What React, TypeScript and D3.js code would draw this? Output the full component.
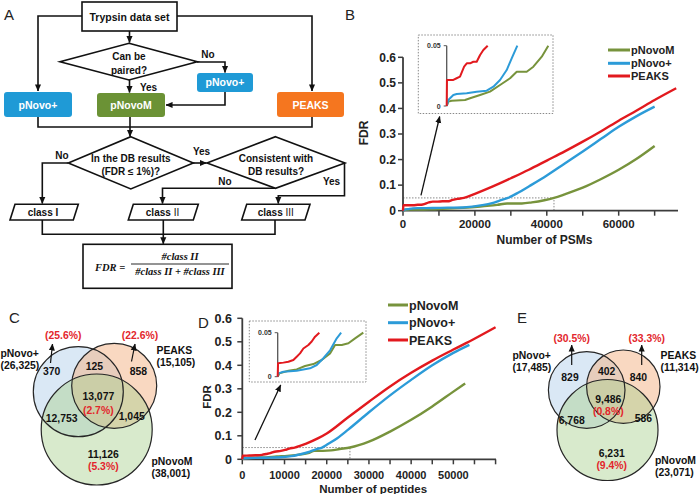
import React from "react";
import * as d3 from "d3";

type Pt = [number, number];

// ---------------- DATA ----------------
const seriesNames = ["pNovoM", "pNovo+", "PEAKS"];
const seriesColors = ["#77933c", "#2c9bd8", "#e2191e"];

// Panel B: FDR vs number of PSMs
const psmPNovoM: Pt[] = [
  [0, 0], [700, 0.0036], [2070, 0.0044], [7580, 0.005], [9650, 0.0064], [13800, 0.0091],
  [17900, 0.0119], [22050, 0.0174], [26200, 0.023], [28950, 0.0284], [33070, 0.0284],
  [35830, 0.0326], [39300, 0.0409], [42000, 0.05], [45000, 0.064], [50000, 0.09],
  [55000, 0.123], [60000, 0.16], [65000, 0.203], [70000, 0.253],
];
const psmPNovoPlus: Pt[] = [
  [0, 0], [690, 0.005], [1380, 0.0064], [2750, 0.0091], [4130, 0.0099], [8270, 0.0105],
  [12400, 0.0119], [16540, 0.0127], [19300, 0.016], [22050, 0.0216], [24800, 0.0298],
  [26870, 0.0395], [29200, 0.05], [32000, 0.07], [35000, 0.095], [40000, 0.138],
  [45000, 0.185], [50000, 0.232], [55000, 0.28], [60000, 0.328], [65000, 0.37], [70000, 0.407],
];
const psmPEAKS: Pt[] = [
  [0, 0], [100, 0.0216], [2750, 0.0216], [4100, 0.023], [5500, 0.0243], [7200, 0.0326],
  [8300, 0.0354], [9650, 0.0354], [11000, 0.0367], [12400, 0.0367], [13800, 0.0423],
  [15150, 0.0464], [16950, 0.05], [20000, 0.066], [25000, 0.095], [30000, 0.127],
  [35000, 0.16], [40000, 0.196], [45000, 0.232], [50000, 0.27], [55000, 0.31],
  [60000, 0.352], [65000, 0.392], [70000, 0.433], [76000, 0.479],
];

// Panel D: FDR vs number of peptides
const pepPNovoM: Pt[] = [
  [0, 0], [490, 0.0038], [3180, 0.0068], [5660, 0.0083], [8150, 0.0121], [10620, 0.0144],
  [13110, 0.019], [15600, 0.0265], [17090, 0.036], [19090, 0.036], [21070, 0.038],
  [23050, 0.0436], [25500, 0.05], [30000, 0.075], [35000, 0.118], [40000, 0.168],
  [45000, 0.225], [50000, 0.288], [52800, 0.323],
];
const pepPNovoPlus: Pt[] = [
  [0, 0], [200, 0.0038], [1690, 0.0057], [5660, 0.0068], [9630, 0.0095], [11630, 0.0133],
  [13610, 0.021], [15600, 0.03], [17590, 0.0436], [18900, 0.05], [20000, 0.062],
  [22500, 0.09], [25000, 0.125], [30000, 0.2], [35000, 0.272], [40000, 0.338],
  [45000, 0.4], [50000, 0.453], [53800, 0.487],
];
const pepPEAKS: Pt[] = [
  [0, 0], [100, 0.0152], [1690, 0.016], [3180, 0.017], [4670, 0.019], [5660, 0.0227],
  [6650, 0.0265], [7650, 0.032], [9140, 0.036], [10130, 0.04], [11130, 0.0455],
  [12400, 0.05], [15000, 0.066], [18000, 0.09], [20000, 0.11], [25000, 0.178],
  [30000, 0.245], [35000, 0.31], [40000, 0.368], [45000, 0.42], [50000, 0.467],
  [55000, 0.513], [60000, 0.562],
];

const fdrTicks = [0, 0.1, 0.2, 0.3, 0.4, 0.5, 0.6];
const insetTicks = [0, 0.05];
const psmTicks = [0, 20000, 40000, 60000];
const pepTicks = [0, 10000, 20000, 30000, 40000, 50000];
const psmZoomLimit = 42000;
const pepZoomLimit = 25500;
const zoomFdr = 0.05;

// Venn diagrams (order of counts: A only, A&B, B only, A&B&C, A&C, B&C, C only)
const vennSetNames = ["pNovo+", "PEAKS", "pNovoM"];
const vennCTotals = ["(26,325)", "(15,105)", "(38,001)"];
const vennCCounts = ["370", "125", "858", "13,077", "12,753", "1,045", "11,126"];
const vennCPercents = ["(25.6%)", "(22.6%)", "(2.7%)", "(5.3%)"];
const vennETotals = ["(17,485)", "(11,314)", "(23,071)"];
const vennECounts = ["829", "402", "840", "9,486", "6,768", "586", "6,231"];
const vennEPercents = ["(30.5%)", "(33.3%)", "(0.8%)", "(9.4%)"];

// ---------------- STYLE ----------------
const FONT = "'Liberation Sans', Arial, sans-serif";
const VFONT = "'Liberation Sans', Arial, sans-serif";
const AXIS = "#3c3c3c";
const RED_TXT = "#e3262c";

interface ChartLayout {
  left: number; right: number; top: number; bottom: number;
  xMax: number; minorStep: number; zoomX: number;
  xTickFont: number; yTickFont: number; xTickY: number; yTickX: number;
  xLabel: string; xLabelY: number; xLabelFont: number; yLabelX: number; yLabelY: number;
  legendX: number; legendY: number[]; legendFont: number; legendLen: number;
  box: [number, number, number, number];
  inAxisX: number; inRight: number; inTop: number; inBottom: number;
  arrowTail: Pt; arrowHead: [number, number];
  lineW: number;
}

function FdrChart({ series, xTicks, L, id }: { series: Pt[][]; xTicks: number[]; L: ChartLayout; id: string }) {
  const x = d3.scaleLinear().domain([0, L.xMax]).range([L.left, L.right]);
  const y = d3.scaleLinear().domain([0, 0.6]).range([L.bottom, L.top]);
  const ix = d3.scaleLinear().domain([0, L.zoomX]).range([L.inAxisX, L.inRight]);
  const iy = d3.scaleLinear().domain([0, zoomFdr]).range([L.inBottom, L.inTop]);
  const mainLine = d3.line<Pt>().x((d) => x(d[0])).y((d) => y(d[1])).curve(d3.curveMonotoneX);
  const insetLine = d3.line<Pt>().x((d) => ix(d[0])).y((d) => iy(d[1]));
  const minor = d3.range(0, L.xMax + 1, L.minorStep);
  const order = [0, 1, 2];
  const [bx0, by0, bx1, by1] = L.box;
  const tx = x(L.arrowTail[0]);
  const ty = y(L.arrowTail[1]);
  const hx = L.inAxisX + L.arrowHead[0];
  const hy = by1 + L.arrowHead[1];
  return (
    <g>
      <path
        d={`M${x(0)},${y(zoomFdr)}H${x(L.zoomX)}V${y(0)}`}
        fill="none" stroke="#8a8a8a" strokeWidth={1} strokeDasharray="1.5,1.5"
      />
      <line x1={x(0)} x2={x(0)} y1={y(0)} y2={y(0.6)} stroke={AXIS} strokeWidth={1.8} />
      <line x1={x(0)} x2={L.right} y1={y(0)} y2={y(0)} stroke={AXIS} strokeWidth={1.8} />
      {fdrTicks.map((t) => (
        <g key={"yt" + t}>
          <line x1={x(0) - 5} x2={x(0)} y1={y(t)} y2={y(t)} stroke={AXIS} strokeWidth={1.5} />
          <text x={L.yTickX} y={y(t)} dy="0.36em" textAnchor="end" fontFamily={FONT}
            fontWeight="bold" fontSize={L.yTickFont} fill="#222">
            {t === 0 ? "0" : t.toFixed(1)}
          </text>
        </g>
      ))}
      {minor.map((t) => (
        <line key={"xm" + t} x1={x(t)} x2={x(t)} y1={y(0)} y2={y(0) + 5} stroke={AXIS} strokeWidth={1.5} />
      ))}
      {xTicks.map((t) => (
        <text key={"xt" + t} x={x(t)} y={L.xTickY} textAnchor="middle" fontFamily={FONT}
          fontWeight="bold" fontSize={L.xTickFont} fill="#222">
          {String(t)}
        </text>
      ))}
      <text x={(L.left + L.right) / 2 + 4} y={L.xLabelY} textAnchor="middle" fontFamily={FONT}
        fontWeight="bold" fontSize={L.xLabelFont} fill="#222">{L.xLabel}</text>
      <text transform={`translate(${L.yLabelX},${L.yLabelY}) rotate(-90)`} textAnchor="middle"
        dy="0.36em" fontFamily={FONT} fontWeight="bold" fontSize={L.xLabelFont} fill="#222">FDR</text>

      {order.map((i) => (
        <path key={"s" + i} d={mainLine(series[i]) || ""} fill="none" stroke={seriesColors[i]}
          strokeWidth={L.lineW} strokeLinejoin="round" />
      ))}

      {seriesNames.map((n, i) => (
        <g key={"lg" + n}>
          <line x1={L.legendX} x2={L.legendX + L.legendLen} y1={L.legendY[i]} y2={L.legendY[i]}
            stroke={seriesColors[i]} strokeWidth={3} />
          <text x={L.legendX + L.legendLen + 1} y={L.legendY[i]} dy="0.36em" fontFamily={FONT}
            fontWeight="bold" fontSize={L.legendFont} fill="#222">{n}</text>
        </g>
      ))}

      <rect x={bx0} y={by0} width={bx1 - bx0} height={by1 - by0} fill="#fff" stroke="#8a8a8a"
        strokeWidth={1} strokeDasharray="1.5,1.5" />
      <line x1={L.inAxisX} x2={L.inAxisX} y1={iy(0)} y2={iy(zoomFdr)} stroke="#555" strokeWidth={1.3} />
      {insetTicks.map((t) => (
        <g key={"it" + t}>
          <line x1={L.inAxisX - 3} x2={L.inAxisX} y1={iy(t)} y2={iy(t)} stroke="#555" strokeWidth={1} />
          <text x={L.inAxisX - 6} y={iy(t)} dy="0.36em" textAnchor="end" fontFamily={FONT}
            fontWeight="bold" fontSize={7} fill="#333">{t === 0 ? "0" : String(t)}</text>
        </g>
      ))}
      {order.map((i) => (
        <path key={"is" + i}
          d={insetLine(series[i].filter((d) => d[1] <= zoomFdr + 1e-9 && d[0] <= L.zoomX)) || ""}
          fill="none" stroke={seriesColors[i]} strokeWidth={2} strokeLinejoin="round" />
      ))}

      <line x1={tx} y1={ty} x2={hx} y2={hy} stroke="#111" strokeWidth={1.3} markerEnd={`url(#${id})`} />
    </g>
  );
}

const layoutB: ChartLayout = {
  left: 403, right: 678, top: 57.3, bottom: 210.7,
  xMax: 76500, minorStep: 10000, zoomX: psmZoomLimit,
  xTickFont: 11.5, yTickFont: 12, xTickY: 227.5, yTickX: 396,
  xLabel: "Number of PSMs", xLabelY: 243.5, xLabelFont: 12, yLabelX: 363.5, yLabelY: 133,
  legendX: 608, legendY: [50, 63.3, 76], legendFont: 11, legendLen: 22,
  box: [418.3, 35, 553, 113.5],
  inAxisX: 446.7, inRight: 548.3, inTop: 45.7, inBottom: 106,
  arrowTail: [5000, 0.06], arrowHead: [-7, 3],
  lineW: 2.4,
};

const layoutD: ChartLayout = {
  left: 242.3, right: 496, top: 318.3, bottom: 459.3,
  xMax: 60100, minorStep: 5000, zoomX: pepZoomLimit,
  xTickFont: 11, yTickFont: 12.5, xTickY: 479, yTickX: 232,
  xLabel: "Number of peptides", xLabelY: 493, xLabelFont: 11.5, yLabelX: 207, yLabelY: 397,
  legendX: 388, legendY: [305, 322.7, 340], legendFont: 12.5, legendLen: 20,
  box: [249.3, 321, 366, 382],
  inAxisX: 277.7, inRight: 363.3, inTop: 332.7, inBottom: 376.7,
  arrowTail: [3000, 0.082], arrowHead: [3, 3],
  lineW: 2.4,
};

interface VennLayout {
  circles: [number, number, number][];
  counts: Pt[];
  percents: Pt[];
  names: { x: number; y: number; anchor: string }[];
  arrows: [number, number, number, number][];
}

const vennFills = ["#9dc3e6", "#f4b183", "#a9d18e"];
const vennOpac = [0.38, 0.5, 0.45];

function Venn({ L, totals, counts, percents, id }: { L: VennLayout; totals: string[]; counts: string[]; percents: string[]; id: string }) {
  return (
    <g fontFamily={VFONT} fontWeight={700} fontSize={10.4}>
      {L.circles.map((c, i) => (
        <circle key={"f" + i} cx={c[0]} cy={c[1]} r={c[2]} fill={vennFills[i]} fillOpacity={vennOpac[i]} />
      ))}
      {L.circles.map((c, i) => (
        <circle key={"o" + i} cx={c[0]} cy={c[1]} r={c[2]} fill="none" stroke="#262626" strokeWidth={1.2} />
      ))}
      {counts.map((t, i) => (
        <text key={"c" + i} x={L.counts[i][0]} y={L.counts[i][1]} dy="0.36em" textAnchor="middle" fill="#111">{t}</text>
      ))}
      {percents.map((t, i) => (
        <text key={"p" + i} x={L.percents[i][0]} y={L.percents[i][1]} dy="0.36em" textAnchor="middle" fill={RED_TXT}>{t}</text>
      ))}
      {vennSetNames.map((n, i) => (
        <g key={"n" + i}>
          <text x={L.names[i].x} y={L.names[i].y} dy="0.36em" textAnchor={L.names[i].anchor} fill="#111">{n}</text>
          <text x={L.names[i].x} y={L.names[i].y + 12.2} dy="0.36em" textAnchor={L.names[i].anchor} fill="#111">{totals[i]}</text>
        </g>
      ))}
      {L.arrows.map((a, i) => (
        <line key={"a" + i} x1={a[0]} y1={a[1]} x2={a[2]} y2={a[3]} stroke="#111" strokeWidth={1.2} markerEnd={`url(#${id})`} />
      ))}
    </g>
  );
}

const layoutC: VennLayout = {
  circles: [[78.3, 391.7, 45], [114.2, 385.8, 42.5], [96.7, 429.5, 55.5]],
  counts: [[51.7, 371.7], [94.3, 366.7], [138.3, 371.7], [98.3, 396.7], [61.7, 418.3], [131.7, 416], [103.3, 454]],
  percents: [[63.3, 335], [140, 335], [98.3, 410], [103.3, 466.7]],
  names: [{ x: 0.5, y: 353, anchor: "start" }, { x: 156.5, y: 350, anchor: "start" }, { x: 151.5, y: 461.5, anchor: "start" }],
  arrows: [[50.5, 363, 52.5, 344], [131.5, 361.5, 135, 344]],
};

const layoutE: VennLayout = {
  circles: [[586.7, 390, 38.3], [623.3, 386.7, 36.7], [607.5, 430, 50.5]],
  counts: [[570, 377.3], [606.7, 371.7], [638.3, 377.3], [608.3, 399], [571.7, 420.7], [643.3, 418.3], [611.7, 453.3]],
  percents: [[571.7, 338.3], [646.7, 338.3], [608.3, 411.7], [611.7, 465.7]],
  names: [{ x: 512.5, y: 355, anchor: "start" }, { x: 660.5, y: 355.5, anchor: "start" }, { x: 655, y: 460, anchor: "start" }],
  arrows: [[571.7, 365, 571.7, 345], [641.7, 365, 641.7, 345]],
};

function Flowchart() {
  const st = { stroke: "#111", strokeWidth: 1.6, fill: "none" } as const;
  const me = "url(#fa)";
  const lbl = { fontFamily: FONT, fontWeight: "bold" as const, fontSize: 10, fill: "#111", textAnchor: "middle" as const };
  const wlbl = { ...lbl, fill: "#fff", fontSize: 10.5 };
  const para = (x0: number, x1: number) =>
    `M${x0 + 5},204.3H${x1}L${x1 - 5},220H${x0}Z`;
  return (
    <g>
      <path d="M82,16H38V91" {...st} markerEnd={me} />
      <path d="M177,16H312V91" {...st} markerEnd={me} />
      <path d="M129.5,31V42.5" {...st} markerEnd={me} />
      <path d="M197,62H225V72.5" {...st} markerEnd={me} />
      <path d="M225,92V105H166" {...st} markerEnd={me} />
      <path d="M129.5,80V92.5" {...st} markerEnd={me} />
      <path d="M38,117V127H312V117" {...st} />
      <path d="M130,117V136.5" {...st} markerEnd={me} />
      <path d="M68,163H42.3V203.5" {...st} markerEnd={me} />
      <path d="M193,163H206.5" {...st} markerEnd={me} />
      <path d="M275,188.3H162.5V203.5" {...st} markerEnd={me} />
      <path d="M344.5,163V195.7H278.3V203.5" {...st} markerEnd={me} />
      <path d="M42.3,220V234.3H275V220" {...st} />
      <path d="M163.3,220V243.8" {...st} markerEnd={me} />

      <rect x={82} y={2} width={95} height={29} fill="#fff" stroke="#111" strokeWidth={1.6} />
      <text {...lbl} fontSize={10.5} x={129.5} y={20.5}>Trypsin data set</text>

      <polygon points="129,43.3 197.3,61.7 129,80 60,61.7" fill="#fff" stroke="#111" strokeWidth={1.6} />
      <text {...lbl} x={129} y={60.3}>Can be</text>
      <text {...lbl} x={129} y={73.5}>paired?</text>
      <polygon points="130.8,136.7 193.3,163 130.8,189 68.3,163" fill="#fff" stroke="#111" strokeWidth={1.6} />
      <text {...lbl} x={130.8} y={161.5}>In the DB results</text>
      <text {...lbl} x={130.8} y={174.5}>(FDR ≤ 1%)?</text>
      <polygon points="275.5,136.7 345,163 275.5,188.3 207,163" fill="#fff" stroke="#111" strokeWidth={1.6} />
      <text {...lbl} x={276} y={161.5}>Consistent with</text>
      <text {...lbl} x={276} y={174.5}>DB results?</text>

      <text {...lbl} x={208} y={57.5}>No</text>
      <text {...lbl} x={148.5} y={90.5}>Yes</text>
      <text {...lbl} x={62} y={158.5}>No</text>
      <text {...lbl} x={201.5} y={154.5}>Yes</text>
      <text {...lbl} x={225} y={184.5}>No</text>
      <text {...lbl} x={331.5} y={184.5}>Yes</text>

      <rect x={4} y={92} width={68} height={25} rx={3} fill="#1f9ad6" />
      <text {...wlbl} x={38} y={108.5}>pNovo+</text>
      <rect x={97} y={93} width={68} height={24} rx={3} fill="#6b9235" />
      <text {...wlbl} x={131} y={109}>pNovoM</text>
      <rect x={197} y={73} width={56} height={19} rx={3} fill="#1f9ad6" />
      <text {...wlbl} x={225} y={86.3}>pNovo+</text>
      <rect x={277} y={92} width={67} height={25} rx={3} fill="#f5761f" />
      <text {...wlbl} x={310.5} y={108.5}>PEAKS</text>

      <path d={para(10, 78.3)} fill="#fff" stroke="#111" strokeWidth={1.6} />
      <text {...lbl} x={43} y={216}>class I</text>
      <path d={para(128.3, 198.3)} fill="#fff" stroke="#111" strokeWidth={1.6} />
      <text {...lbl} x={162.5} y={216}>class <tspan fontWeight="normal">II</tspan></text>
      <path d={para(241.7, 310)} fill="#fff" stroke="#111" strokeWidth={1.6} />
      <text {...lbl} x={275.8} y={216}>class <tspan fontWeight="normal">III</tspan></text>

      <rect x={83} y={244.3} width={149} height={44} fill="#fff" stroke="#111" strokeWidth={1.6} />
      <g fontFamily="'Liberation Serif', 'DejaVu Serif', serif" fontWeight="bold" fontStyle="italic" fontSize={10.5} fill="#111">
        <text x={95} y={271}>FDR =</text>
        <text x={180} y={260} textAnchor="middle">#class II</text>
        <line x1={131} x2={229} y1={264} y2={264} stroke="#111" strokeWidth={0.9} />
        <text x={180} y={275} textAnchor="middle">#class II + #class III</text>
      </g>
    </g>
  );
}

export default function App() {
  return (
    <svg width={700} height={494} viewBox="0 0 700 494"
      style={{ position: "absolute", left: 0, top: 0, background: "#fff", display: "block" }}>
      <defs>
        <marker id="fa" viewBox="0 0 8 8" refX={7.5} refY={4} markerWidth={7} markerHeight={7}
          markerUnits="userSpaceOnUse" orient="auto">
          <path d="M0,0.5L8,4L0,7.5Z" fill="#111" />
        </marker>
        <marker id="ca" viewBox="0 0 8 8" refX={7.5} refY={4} markerWidth={7} markerHeight={7}
          markerUnits="userSpaceOnUse" orient="auto">
          <path d="M0,0.5L8,4L0,7.5Z" fill="#111" />
        </marker>
      </defs>
      <rect x={0} y={0} width={700} height={494} fill="#fff" />

      <g fontFamily={FONT} fontSize={15} fill="#222">
        <text x={4} y={20}>A</text>
        <text x={345} y={20}>B</text>
        <text x={9} y={323}>C</text>
        <text x={198} y={328}>D</text>
        <text x={517} y={323}>E</text>
      </g>

      <Flowchart />
      <FdrChart series={[psmPNovoM, psmPNovoPlus, psmPEAKS]} xTicks={psmTicks} L={layoutB} id="ca" />
      <FdrChart series={[pepPNovoM, pepPNovoPlus, pepPEAKS]} xTicks={pepTicks} L={layoutD} id="ca" />
      <Venn L={layoutC} totals={vennCTotals} counts={vennCCounts} percents={vennCPercents} id="ca" />
      <Venn L={layoutE} totals={vennETotals} counts={vennECounts} percents={vennEPercents} id="ca" />
    </svg>
  );
}
